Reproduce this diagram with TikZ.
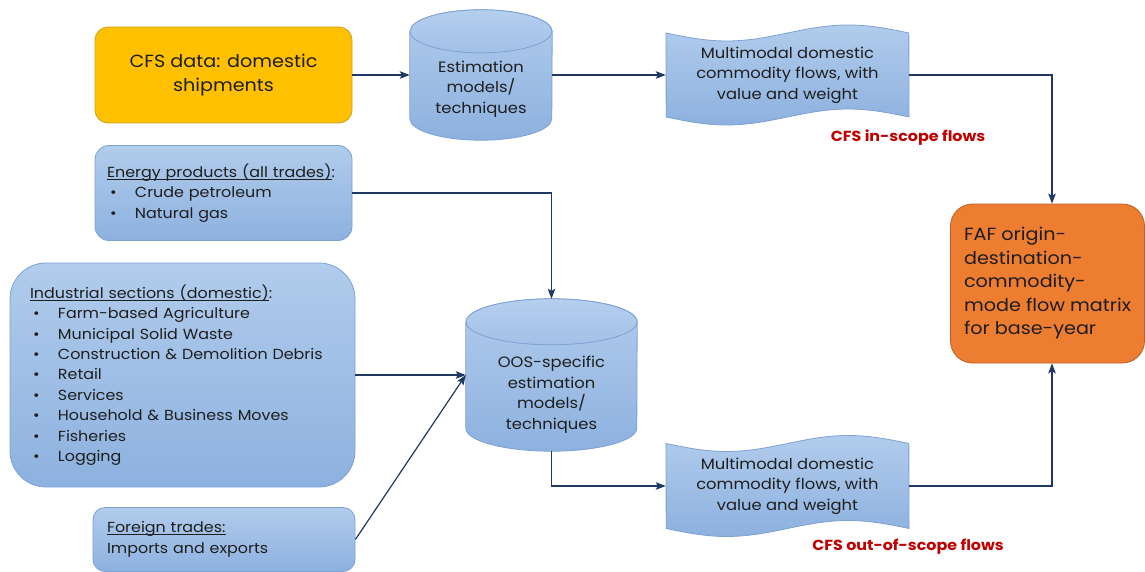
\documentclass[tikz,border=0pt]{standalone}
\usepackage{fontspec}
\setmainfont{Poppins}[FakeStretch=1.09]
\usetikzlibrary{arrows.meta,calc,backgrounds}
\definecolor{navy}{HTML}{203864}
\definecolor{bluetop}{HTML}{B1CCEC}
\definecolor{bluebot}{HTML}{8DB1DF}
\definecolor{blueedge}{HTML}{7EA1D3}
\definecolor{ellitop}{HTML}{B5CFEE}
\definecolor{ellibot}{HTML}{A2C0E7}
\definecolor{goldfill}{HTML}{FFC000}
\definecolor{goldedge}{HTML}{C9A227}
\definecolor{faffill}{HTML}{ED7D31}
\definecolor{fafedge}{HTML}{B8612A}
\definecolor{txt}{HTML}{1E1E1E}
\definecolor{redlab}{HTML}{C00000}
\tikzset{
  arr/.style={draw=navy, line width=1.2pt, -{Stealth[length=10pt,width=7.5pt,inset=2pt]}},
  bluebox/.style={rectangle, draw=blueedge, line width=0.8pt, top color=bluetop, bottom color=bluebot, text=txt, align=left, inner sep=0pt},
  shapefill/.style={draw=blueedge, line width=0.8pt, top color=bluetop, bottom color=bluebot},
  ellifill/.style={draw=blueedge, line width=0.8pt, top color=ellitop, bottom color=ellibot},
  bigfont/.style={font=\fontsize{17.6}{23.5}\selectfont},
  midfont/.style={font=\fontsize{15}{20.5}\selectfont},
  listfont/.style={font=\fontsize{14.6}{20.4}\selectfont},
  lab/.style={text=redlab, font=\bfseries\fontsize{14.6}{17}\selectfont},
  holder/.style={rectangle, inner sep=0pt, text=txt, align=center},
}
\newcommand{\itm}[1]{\makebox[28pt][l]{\hspace{3pt}•}#1}
\newsavebox{\ulbox}
\newcommand{\ulx}[1]{\sbox{\ulbox}{#1}\rlap{\usebox{\ulbox}}\rule[-2.2pt]{\wd\ulbox}{0.7pt}}
\begin{document}
\begin{tikzpicture}[x=1pt,y=-1pt]
\useasboundingbox (0,0) rectangle (1145,572);

% rounded boxes
\node[rectangle, rounded corners=13pt, draw=goldedge, line width=0.8pt, fill=goldfill, text=txt,
      minimum width=257pt, minimum height=96pt, align=center, bigfont] (cfs) at (223.5,75)
      {CFS data: domestic\\shipments};

\node[bluebox, rounded corners=14pt, minimum width=257pt, minimum height=95pt, text width=233pt, listfont]
      (en) at (223.5,193)
      {\ulx{Energy products (all trades)}:\\\itm{Crude petroleum}\\\itm{Natural gas}};

\node[bluebox, rounded corners=36pt, minimum width=345pt, minimum height=224pt, text width=305pt, listfont]
      (ind) at (182.5,375)
      {\ulx{Industrial sections (domestic)}:\\
       \itm{Farm-based Agriculture}\\
       \itm{Municipal Solid Waste}\\
       \itm{Construction \& Demolition Debris}\\
       \itm{Retail}\\
       \itm{Services}\\
       \itm{Household \& Business Moves}\\
       \itm{Fisheries}\\
       \itm{Logging}};

\node[bluebox, rounded corners=12pt, minimum width=262pt, minimum height=64pt, text width=234pt, listfont]
      (fo) at (224,539.5)
      {\ulx{Foreign trades:}\\Imports and exports};

\node[rectangle, rounded corners=22pt, draw=fafedge, line width=0.8pt, fill=faffill, text=txt,
      minimum width=194pt, minimum height=159pt, align=left, bigfont] (faf) at (1047.5,283.5)
      {FAF origin-\\destination-\\commodity-\\mode flow matrix\\for base-year};

% cylinders (holders) and their texts
\node[holder, minimum width=142pt, minimum height=130pt] (c1) at (481,75) {};
\node[holder, midfont] (t1) at (481,89) {Estimation\\models/\\techniques};
\node[holder, minimum width=171pt, minimum height=152pt] (c2) at (551.5,375) {};
\node[holder, midfont] (t2) at (551.5,394.5) {OOS-specific\\estimation\\models/\\techniques};

% documents (punched tape)
\node[holder, minimum width=243pt, minimum height=84pt, midfont] (d1) at (787.5,75)
      {Multimodal domestic\\commodity flows, with\\value and weight};
\node[holder, minimum width=243pt, minimum height=85pt, midfont] (d2) at (787.5,486)
      {Multimodal domestic\\commodity flows, with\\value and weight};

\node[lab] (l1) at (908,138) {CFS in-scope flows};
\node[lab] (l2) at (908,547) {CFS out-of-scope flows};

\begin{scope}[on background layer]
  \foreach \n/\rx/\ry in {c1/71pt/21.5pt, c2/85.5pt/23pt}{
    \path[shapefill] ([yshift=-\ry]\n.north west) -- ([yshift=\ry]\n.south west)
       arc[start angle=180, end angle=360, x radius=\rx, y radius=\ry]
       -- ([yshift=-\ry]\n.north east)
       arc[start angle=0, end angle=180, x radius=\rx, y radius=\ry] -- cycle;
    \path[ellifill] ([yshift=-\ry]\n.north) ellipse[x radius=\rx, y radius=\ry];
  }
  \foreach \xa/\xb/\ya/\yb in {666/909/33/117, 666/909/443.5/528.5}{
    \path[shapefill]
      plot[domain=0:1, samples=60, variable=\t] ({\xa+\t*(\xb-\xa)}, {\ya+8*sin(360*\t)})
      -- plot[domain=1:0, samples=60, variable=\t] ({\xa+\t*(\xb-\xa)}, {\yb+8*sin(360*\t)})
      -- cycle;
  }
\end{scope}

% connectors
\draw[arr] (cfs.east) -- (c1.west);
\draw[arr] (c1.east) -- (d1.west);
\draw[arr] (d1.east) -| ([xshift=4.5pt]faf.north);
\draw[arr] (en.east) -| (c2.north);
\draw[arr] (ind.east) -- (c2.west);
\draw[arr] (fo.east) -- (c2.west);
\draw[arr] (c2.south) |- (d2.west);
\draw[arr] (d2.east) -| ([xshift=4.5pt]faf.south);
\end{tikzpicture}
\end{document}
